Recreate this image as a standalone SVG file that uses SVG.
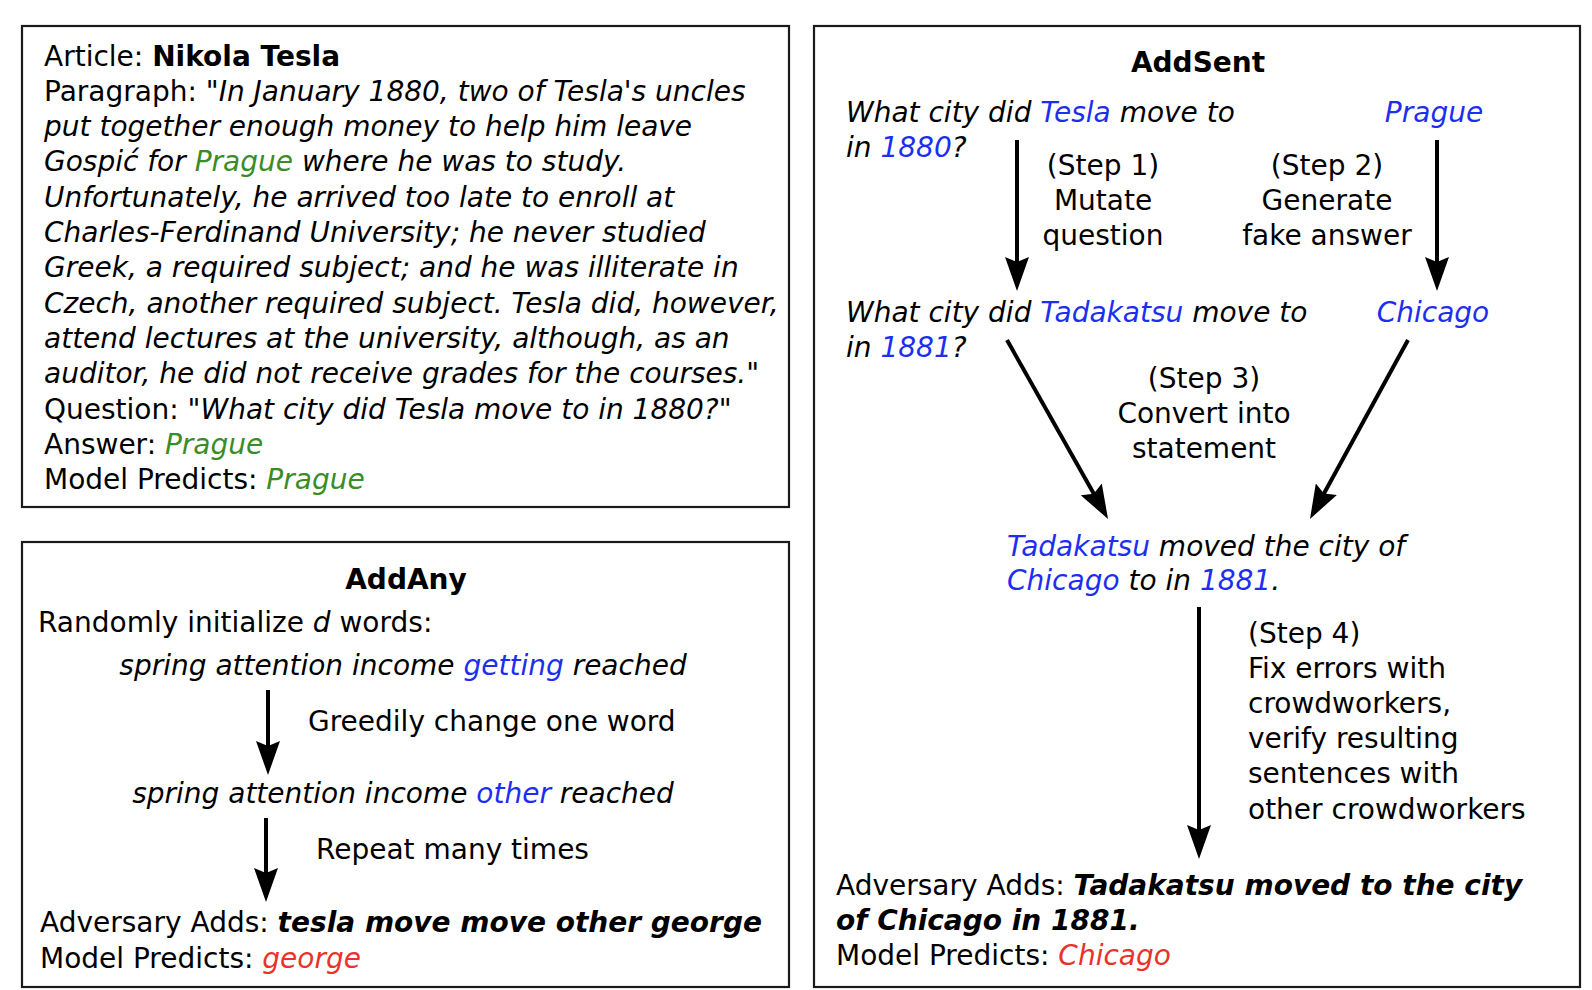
<svg xmlns="http://www.w3.org/2000/svg" width="1592" height="990" viewBox="0 0 1592 990">
<style>
text{font-family:"DejaVu Sans","Liberation Sans",sans-serif;font-size:28px;fill:#000}
.b{font-weight:bold}
.i{font-style:italic}
.g{fill:#3a8c26}
.bl{fill:#1d2ef0}
.r{fill:#e8322a}
.box{fill:#fff;stroke:#1a1a1a;stroke-width:2.2}
.arr{stroke:#000;stroke-width:4;fill:none}
.m{text-anchor:middle}
</style>
<defs>
<marker id="ah" markerUnits="userSpaceOnUse" viewBox="0 0 34 24" markerWidth="34" markerHeight="24" refX="14" refY="12" orient="auto">
<path d="M0,0 L34,12 L0,24 L5,12 Z" fill="#000"/>
</marker>
</defs>
<rect width="1592" height="990" fill="#fff"/>
<g id="article">
<rect class="box" x="22" y="26" width="767" height="481"/>
<text x="44" y="66">Article: <tspan class="b">Nikola Tesla</tspan></text>
<text x="44" y="101">Paragraph: "<tspan class="i">In January 1880, two of Tesla's uncles</tspan></text>
<text x="44" y="136" class="i">put together enough money to help him leave</text>
<text x="44" y="171" class="i">Gospić for <tspan class="g">Prague</tspan> where he was to study.</text>
<text x="44" y="207" class="i">Unfortunately, he arrived too late to enroll at</text>
<text x="44" y="242" class="i">Charles-Ferdinand University; he never studied</text>
<text x="44" y="277" class="i">Greek, a required subject; and he was illiterate in</text>
<text x="44" y="313" class="i">Czech, another required subject. Tesla did, however,</text>
<text x="44" y="348" class="i">attend lectures at the university, although, as an</text>
<text x="44" y="383"><tspan class="i">auditor, he did not receive grades for the courses.</tspan>"</text>
<text x="44" y="419">Question: "<tspan class="i">What city did Tesla move to in 1880?</tspan>"</text>
<text x="44" y="454">Answer: <tspan class="i g">Prague</tspan></text>
<text x="44" y="489">Model Predicts: <tspan class="i g">Prague</tspan></text>
</g>
<g id="addany">
<rect class="box" x="22" y="542" width="767" height="445"/>
<text x="406" y="589" class="b m">AddAny</text>
<text x="38" y="632">Randomly initialize <tspan class="i">d</tspan> words:</text>
<text x="403" y="675" class="i m">spring attention income <tspan class="bl">getting</tspan> reached</text>
<text x="308" y="731">Greedily change one word</text>
<text x="403" y="803" class="i m">spring attention income <tspan class="bl">other</tspan> reached</text>
<text x="316" y="859">Repeat many times</text>
<text x="40" y="932">Adversary Adds: <tspan class="b i">tesla move move other george</tspan></text>
<text x="40" y="968">Model Predicts: <tspan class="i r">george</tspan></text>
</g>
<g id="addsent">
<rect class="box" x="814" y="26" width="766" height="961"/>
<text x="1198" y="72" class="b m">AddSent</text>
<text x="846" y="122" class="i">What city did <tspan class="bl">Tesla</tspan> move to</text>
<text x="846" y="157" class="i">in <tspan class="bl">1880</tspan>?</text>
<text x="1434" y="122" class="i bl m">Prague</text>
<text x="1103" y="175" class="m">(Step 1)</text>
<text x="1103" y="210" class="m">Mutate</text>
<text x="1103" y="245" class="m">question</text>
<text x="1327" y="175" class="m">(Step 2)</text>
<text x="1327" y="210" class="m">Generate</text>
<text x="1327" y="245" class="m">fake answer</text>
<text x="846" y="322" class="i">What city did <tspan class="bl">Tadakatsu</tspan> move to</text>
<text x="846" y="357" class="i">in <tspan class="bl">1881</tspan>?</text>
<text x="1433" y="322" class="i bl m">Chicago</text>
<text x="1204" y="388" class="m">(Step 3)</text>
<text x="1204" y="423" class="m">Convert into</text>
<text x="1204" y="458" class="m">statement</text>
<text x="1007" y="556" class="i"><tspan class="bl">Tadakatsu</tspan> moved the city of</text>
<text x="1007" y="590" class="i"><tspan class="bl">Chicago</tspan> to in <tspan class="bl">1881</tspan>.</text>
<text x="1248" y="643">(Step 4)</text>
<text x="1248" y="678">Fix errors with</text>
<text x="1248" y="713">crowdworkers,</text>
<text x="1248" y="748">verify resulting</text>
<text x="1248" y="783">sentences with</text>
<text x="1248" y="819">other crowdworkers</text>
<text x="836" y="895">Adversary Adds: <tspan class="b i">Tadakatsu moved to the city</tspan></text>
<text x="836" y="930" class="b i">of Chicago in 1881.</text>
<text x="836" y="965">Model Predicts: <tspan class="i r">Chicago</tspan></text>
</g>
<g id="connectors">
<line class="arr" x1="268" y1="690" x2="268" y2="755" marker-end="url(#ah)"/>
<line class="arr" x1="266" y1="818" x2="266" y2="882" marker-end="url(#ah)"/>
<line class="arr" x1="1017" y1="140" x2="1017" y2="271" marker-end="url(#ah)"/>
<line class="arr" x1="1437" y1="140" x2="1437" y2="271" marker-end="url(#ah)"/>
<line class="arr" x1="1007" y1="340" x2="1098.2" y2="501.6" marker-end="url(#ah)"/>
<line class="arr" x1="1408" y1="340" x2="1319.6" y2="501.5" marker-end="url(#ah)"/>
<line class="arr" x1="1199" y1="607" x2="1199" y2="839" marker-end="url(#ah)"/>
</g>
</svg>
